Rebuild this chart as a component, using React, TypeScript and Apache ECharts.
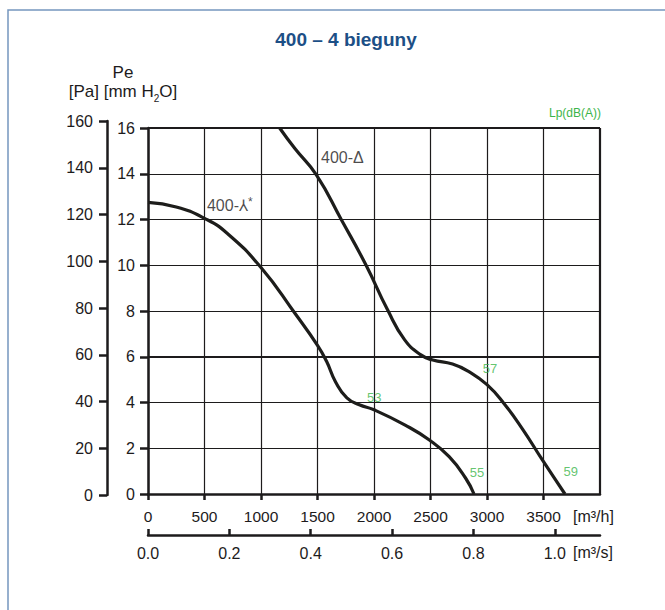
import React, { useEffect, useRef } from "react";
import * as echarts from "echarts";

// 400-⅄ (star) curve: flow [m3/h] and pressure [mm H2O]
const FLOW_STAR = [0, 250, 500, 700, 1000, 1300, 1500, 1580, 1660, 1760, 1870, 2000, 2280, 2490, 2665, 2810, 2885];
const PRESS_STAR = [12.75, 12.55, 12.05, 11.4, 9.9, 7.9, 6.5, 5.8, 4.9, 4.2, 3.9, 3.68, 3.0, 2.36, 1.63, 0.7, 0];
// 400-Δ (delta) curve
const FLOW_DELTA = [1165, 1300, 1490, 1710, 1930, 2120, 2270, 2415, 2520, 2695, 2840, 3000, 3150, 3310, 3490, 3690];
const PRESS_DELTA = [16, 15.1, 13.95, 12.0, 10.0, 8.05, 6.75, 6.08, 5.86, 5.68, 5.35, 4.78, 3.96, 2.87, 1.49, 0];

// tick labels
const TICKS_M3H = [0, 500, 1000, 1500, 2000, 2500, 3000, 3500];
const TICKS_M3S = [0, 0.2, 0.4, 0.6, 0.8, 1.0];
const TICKS_MMH2O = [0, 2, 4, 6, 8, 10, 12, 14, 16];
const TICKS_PA = [0, 20, 40, 60, 80, 100, 120, 140, 160];

// noise level annotations (Lp dB(A))
const NOISE_TEXT = ["53", "55", "57", "59"];
const NOISE_FLOW = [2003, 2912, 3027, 3741];
const NOISE_PRESS = [4.2, 0.96, 5.5, 1.0];

// curve names
const CURVE_NAMES = ["400-⅄", "400-Δ"];
const CURVE_NAME_FLOW = [724, 1720];
const CURVE_NAME_PRESS = [12.6, 14.7];

const SANS = '"Liberation Sans", Arial, Helvetica, sans-serif';
const INK = "#1d1b1c";
const GREEN = "#3cb54a";
const M3H_PER_M3S = 3600;
const X_MAX = 4000;

export default function App() {
  const ref = useRef<HTMLDivElement>(null);

  useEffect(() => {
    document.body.style.margin = "0";
    if (!ref.current) return;
    const chart = echarts.init(ref.current, null, { renderer: "svg" });

    const starData = FLOW_STAR.map((x, i) => [x, PRESS_STAR[i]]);
    const deltaData = FLOW_DELTA.map((x, i) => [x, PRESS_DELTA[i]]);

    const noiseData = NOISE_TEXT.map((t, i) => ({
      value: [NOISE_FLOW[i], NOISE_PRESS[i]],
      name: t,
      label: { color: GREEN, fontSize: 13 },
    }));
    const nameData = CURVE_NAMES.map((t, i) => ({
      value: [CURVE_NAME_FLOW[i], CURVE_NAME_PRESS[i]],
      name: t,
      label: {
        color: INK,
        fontSize: 16,
        formatter: i === 0 ? "{a|" + t + "}{s|*}" : t,
      },
    }));

    const option: any = {
      animation: false,
      backgroundColor: "#ffffff",
      title: {
        text: "400 – 4 bieguny",
        left: 341,
        top: 25,
        textAlign: "center",
        textStyle: {
          fontFamily: SANS,
          fontWeight: "bold",
          fontSize: 19,
          color: "#1c4f86",
        },
      },
      grid: [
        { left: 148, top: 128, width: 452, height: 366, containLabel: false },
        { left: 107, top: 121, width: 493, height: 374, containLabel: false },
      ],
      xAxis: [
        {
          type: "value",
          gridIndex: 0,
          min: 0,
          max: X_MAX,
          interval: 500,
          axisLine: { show: true, onZero: false, lineStyle: { color: INK, width: 2.5 } },
          axisTick: {
            show: true,
            length: 6,
            lineStyle: { color: INK, width: 2.5 },
            customValues: TICKS_M3H,
          },
          axisLabel: {
            margin: 14,
            color: INK,
            fontFamily: SANS,
            fontSize: 15.5,
            customValues: TICKS_M3H,
            formatter: (v: number) => String(v),
          },
          splitLine: { show: true, lineStyle: { color: INK, width: 1.2 } },
        },
        {
          type: "value",
          gridIndex: 0,
          position: "bottom",
          offset: 41,
          min: 0,
          max: X_MAX / M3H_PER_M3S,
          interval: 0.2,
          axisLine: { show: true, onZero: false, lineStyle: { color: INK, width: 2.5 } },
          axisTick: {
            show: true,
            inside: true,
            length: 6,
            lineStyle: { color: INK, width: 2.5 },
            customValues: TICKS_M3S,
          },
          axisLabel: {
            margin: 10,
            color: INK,
            fontFamily: SANS,
            fontSize: 16,
            customValues: TICKS_M3S,
            formatter: (v: number) => v.toFixed(1),
          },
          splitLine: { show: false },
        },
        {
          type: "value",
          gridIndex: 1,
          min: 0,
          max: X_MAX,
          show: false,
        },
      ],
      yAxis: [
        {
          type: "value",
          gridIndex: 0,
          min: 0,
          max: 16,
          interval: 2,
          axisLine: { show: true, onZero: false, lineStyle: { color: INK, width: 2.5 } },
          axisTick: { show: true, length: 8, lineStyle: { color: INK, width: 2.5 }, customValues: TICKS_MMH2O },
          axisLabel: {
            margin: 13,
            color: INK,
            fontFamily: SANS,
            fontSize: 16,
            customValues: TICKS_MMH2O,
          },
          splitLine: { show: true, lineStyle: { color: INK, width: 1.2 } },
        },
        {
          type: "value",
          gridIndex: 1,
          min: 0,
          max: 160,
          interval: 20,
          axisLine: { show: true, onZero: false, lineStyle: { color: INK, width: 2.5 } },
          axisTick: { show: true, length: 8, lineStyle: { color: INK, width: 2.5 }, customValues: TICKS_PA },
          axisLabel: {
            margin: 14,
            color: INK,
            fontFamily: SANS,
            fontSize: 16,
            customValues: TICKS_PA,
          },
          splitLine: { show: false },
        },
      ],
      series: [
        {
          type: "line",
          name: "frame",
          xAxisIndex: 0,
          yAxisIndex: 0,
          data: [],
          silent: true,
          markLine: {
            silent: true,
            symbol: "none",
            label: { show: false },
            lineStyle: { color: INK, width: 2.2, type: "solid" },
            data: [{ yAxis: 6 }, { yAxis: 16 }, { xAxis: X_MAX }],
          },
        },
        {
          type: "line",
          name: CURVE_NAMES[0],
          xAxisIndex: 0,
          yAxisIndex: 0,
          data: starData,
          smooth: 0.5,
          showSymbol: false,
          clip: true,
          lineStyle: { color: "#1d1d1b", width: 3.2 },
          z: 5,
        },
        {
          type: "line",
          name: CURVE_NAMES[1],
          xAxisIndex: 0,
          yAxisIndex: 0,
          data: deltaData,
          smooth: 0.5,
          showSymbol: false,
          clip: true,
          lineStyle: { color: "#1d1d1b", width: 3.2 },
          z: 5,
        },
        {
          type: "scatter",
          name: "noise",
          xAxisIndex: 0,
          yAxisIndex: 0,
          symbolSize: 0,
          data: noiseData,
          z: 6,
          label: {
            show: true,
            position: "inside",
            fontFamily: SANS,
            formatter: (p: any) => p.name,
          },
        },
        {
          type: "scatter",
          name: "names",
          xAxisIndex: 0,
          yAxisIndex: 0,
          symbolSize: 0,
          data: nameData,
          z: 6,
          label: {
            show: true,
            position: "inside",
            fontFamily: SANS,
            rich: {
              a: { fontFamily: SANS, fontSize: 16, color: INK },
              s: { fontFamily: SANS, fontSize: 12, color: INK, verticalAlign: "top", padding: [0, 0, 8, 0] },
            },
          },
        },
        {
          type: "line",
          name: "pa",
          xAxisIndex: 2,
          yAxisIndex: 1,
          data: [],
        },
      ],
      graphic: [
        {
          type: "rect",
          shape: { x: 8, y: 10, width: 700, height: 700 },
          style: { fill: "none", stroke: "#7596bf", lineWidth: 1.5 },
          silent: true,
        },
        {
          type: "text",
          x: 123,
          y: 72,
          style: {
            text: "Pe",
            fontFamily: SANS,
            fontSize: 17,
            fill: INK,
            textAlign: "center",
            textVerticalAlign: "middle",
          },
        },
        {
          type: "text",
          x: 123,
          y: 93,
          style: {
            text: "{n|[Pa] [mm H}{sub|2}{n|O]}",
            fontFamily: SANS,
            fontSize: 17,
            fill: INK,
            textAlign: "center",
            textVerticalAlign: "middle",
            rich: {
              n: { fontFamily: SANS, fontSize: 17, fill: INK, lineHeight: 20, verticalAlign: "top" },
              sub: { fontFamily: SANS, fontSize: 10, fill: INK, lineHeight: 10, verticalAlign: "bottom" },
            },
          },
        },
        {
          type: "text",
          x: 575,
          y: 113,
          style: {
            text: "Lp(dB(A))",
            fontFamily: SANS,
            fontSize: 12,
            fill: GREEN,
            textAlign: "center",
            textVerticalAlign: "middle",
          },
        },
        {
          type: "text",
          x: 573,
          y: 516,
          style: {
            text: "[m³/h]",
            fontFamily: SANS,
            fontSize: 16,
            fill: INK,
            textAlign: "left",
            textVerticalAlign: "middle",
          },
        },
        {
          type: "text",
          x: 573,
          y: 552,
          style: {
            text: "[m³/s]",
            fontFamily: SANS,
            fontSize: 16,
            fill: INK,
            textAlign: "left",
            textVerticalAlign: "middle",
          },
        },
      ],
    };

    chart.setOption(option);
    return () => chart.dispose();
  }, []);

  return <div ref={ref} style={{ width: 665, height: 610 }} />;
}
